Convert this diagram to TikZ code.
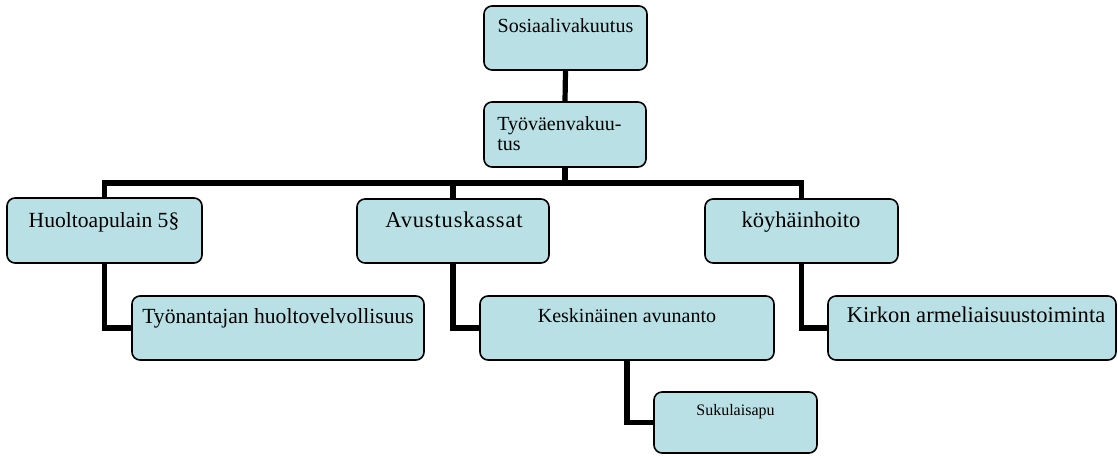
\documentclass[tikz,border=0pt]{standalone}
\usepackage{fontspec}
\setmainfont{Liberation Serif}
\usetikzlibrary{fit}
\definecolor{boxfill}{RGB}{185,224,228}
\tikzset{
  box/.style={draw=black, line width=1.2pt, fill=boxfill, rounded corners=6pt, inner sep=0pt},
  conn/.style={line width=3.9pt, draw=black},
  lbl/.style={inner sep=0pt, anchor=base},
  lblw/.style={inner sep=0pt, anchor=base west},
  fA/.style={font=\fontsize{15}{18}\selectfont},
  fB/.style={font=\fontsize{16.9}{20}\selectfont},
  fBs/.style={font=\fontsize{16.2}{20}\selectfont},
  fBw/.style={font={\fontsize{16.9}{20}\selectfont\addfontfeature{LetterSpace=3.7}}},
  fC/.style={font=\fontsize{12}{14}\selectfont},
}
\begin{document}
\begin{tikzpicture}[x=0.75pt,y=-0.75pt]
\useasboundingbox (0,0) rectangle (1118,455);
% box corners
\coordinate (sosA) at (484,6);   \coordinate (sosB) at (647,70);
\coordinate (tyoA) at (484,102); \coordinate (tyoB) at (646,167);
\coordinate (huoA) at (7,198);   \coordinate (huoB) at (202,263);
\coordinate (avuA) at (357,199); \coordinate (avuB) at (549,263);
\coordinate (koyA) at (705,199); \coordinate (koyB) at (898,263);
\coordinate (tynA) at (132,296); \coordinate (tynB) at (424,360);
\coordinate (kesA) at (480,296); \coordinate (kesB) at (774,360);
\coordinate (kirA) at (828,296); \coordinate (kirB) at (1116,360);
\coordinate (sukA) at (654,392); \coordinate (sukB) at (817,453);
% boxes
\node[box, fit=(sosA)(sosB)] (sos) {};
\node[box, fit=(tyoA)(tyoB)] (tyo) {};
\node[box, fit=(huoA)(huoB)] (huo) {};
\node[box, fit=(avuA)(avuB)] (avu) {};
\node[box, fit=(koyA)(koyB)] (koy) {};
\node[box, fit=(tynA)(tynB)] (tyn) {};
\node[box, fit=(kesA)(kesB)] (kes) {};
\node[box, fit=(kirA)(kirB)] (kir) {};
\node[box, fit=(sukA)(sukB)] (suk) {};
% labels
\node[lbl, fA] (tsos) at (565.5,32) {Sosiaalivakuutus};
\node[lblw, fA] (ttyo1) at (497,130) {Työväenvakuu-};
\node[lblw, fA] (ttyo2) at (497,150) {tus};
\node[lbl, fBs] (thuo) at (104,227) {Huoltoapulain 5§};
\node[lbl, fBw] (tavu) at (454,227) {Avustuskassat};
\node[lbl, fB] (tkoy) at (801,227) {köyhäinhoito};
\node[lbl, fBs] (ttyn) at (278,323) {Työnantajan huoltovelvollisuus};
\node[lbl, fA] (tkes) at (627,322) {Keskinäinen avunanto};
\node[lbl, fB] (tkir) at (976,322) {Kirkon armeliaisuustoiminta};
\node[lbl, fC] (tsuk) at (735.5,415) {Sukulaisapu};
% connectors
\coordinate (bar) at (565,183);
\draw[conn] (sos.south) -- (tyo.north);
\draw[conn] (tyo.south) -- (bar);
\draw[conn] (bar) -| (huo.north);
\draw[conn] (bar) -| (avu.north);
\draw[conn] (bar) -| (koy.north);
\draw[conn] (huo.south) |- (tyn.west);
\draw[conn] (avu.south) |- (kes.west);
\draw[conn] (koy.south) |- (kir.west);
\draw[conn] (kes.south) |- (suk.west);
\end{tikzpicture}
\end{document}
